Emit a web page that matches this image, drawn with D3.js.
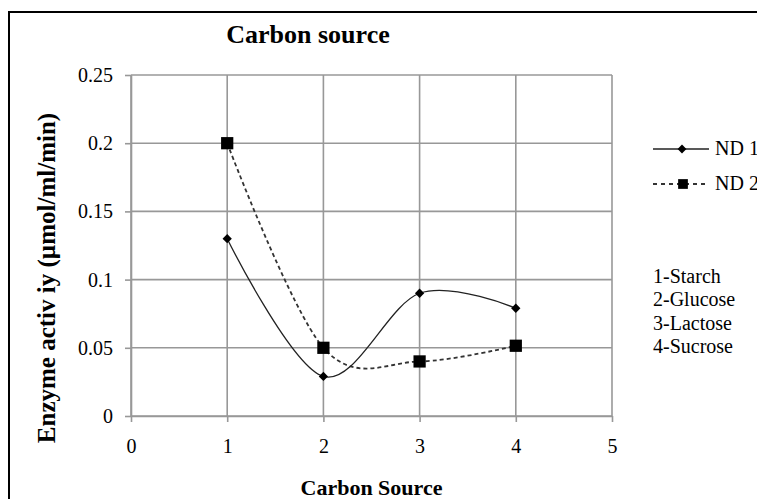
<!DOCTYPE html>
<html>
<head>
<meta charset="utf-8">
<script src="https://cdn.jsdelivr.net/npm/d3@7"></script>
<style>
  body { margin: 0; background: #fff; }
  text { font-family: "Liberation Serif", "Times New Roman", serif; fill: #000; }
</style>
</head>
<body>
<div id="wrapper"></div>
<script>
// chart values
const categories = [1, 2, 3, 4];
const nd1 = [0.13, 0.029, 0.09, 0.079];
const nd2 = [0.2, 0.05, 0.04, 0.0515];
const seriesNames = ["ND 1", "ND 2"];
const xTicks = [0, 1, 2, 3, 4, 5];
const yTicks = [0, 0.05, 0.1, 0.15, 0.2, 0.25];
const yTickLabels = ["0", "0.05", "0.1", "0.15", "0.2", "0.25"];
const sourceList = ["1-Starch", "2-Glucose", "3-Lactose", "4-Sucrose"];

const width = 757;
const height = 499;
let dimensions = {
    width: width,
    height: height,
    margin: { top: 75, right: 145, bottom: 83, left: 131 }
};
dimensions.boundedWidth = dimensions.width - dimensions.margin.left - dimensions.margin.right;
dimensions.boundedHeight = dimensions.height - dimensions.margin.top - dimensions.margin.bottom;

const gridColor = "#989898";

const svg = d3.select("#wrapper")
    .append("svg")
    .attr("width", width)
    .attr("height", height);

// outer frame (runs off the right and bottom edges)
svg.append("rect")
    .attr("x", 9)
    .attr("y", 12)
    .attr("width", width + 20)
    .attr("height", height + 20)
    .attr("fill", "none")
    .attr("stroke", "#000")
    .attr("stroke-width", 2);

const bounds = svg.append("g")
    .attr("transform", `translate(${dimensions.margin.left},${dimensions.margin.top})`);

const xScale = d3.scaleLinear().domain([0, 5]).range([0, dimensions.boundedWidth]);
const yScale = d3.scaleLinear().domain([0, 0.25]).range([dimensions.boundedHeight, 0]);

// grid
bounds.append("g")
    .selectAll("line")
    .data(yTicks)
    .enter()
    .append("line")
    .attr("x1", 0)
    .attr("x2", dimensions.boundedWidth)
    .attr("y1", d => yScale(d))
    .attr("y2", d => yScale(d))
    .attr("stroke", gridColor)
    .attr("stroke-width", 1.6);

bounds.append("g")
    .selectAll("line")
    .data(xTicks)
    .enter()
    .append("line")
    .attr("x1", d => xScale(d))
    .attr("x2", d => xScale(d))
    .attr("y1", 0)
    .attr("y2", dimensions.boundedHeight)
    .attr("stroke", gridColor)
    .attr("stroke-width", 1.6);

// axes
const xAxis = bounds.append("g")
    .attr("transform", `translate(0,${dimensions.boundedHeight})`)
    .call(d3.axisBottom(xScale).tickValues(xTicks).tickFormat(d3.format("d")).tickSize(6).tickPadding(17).tickSizeOuter(0));

const yAxis = bounds.append("g")
    .call(d3.axisLeft(yScale).tickValues(yTicks).tickFormat((d, i) => yTickLabels[i]).tickSize(6).tickPadding(12).tickSizeOuter(0));

[xAxis, yAxis].forEach(ax => {
    ax.select(".domain").attr("stroke", gridColor).attr("stroke-width", 1.6);
    ax.selectAll(".tick line").attr("stroke", gridColor).attr("stroke-width", 1.6);
    ax.selectAll(".tick text")
        .style("font-family", "Liberation Serif")
        .style("font-size", "20px")
        .attr("fill", "#000");
});

// series lines
const line = d3.line()
    .x((d, i) => xScale(categories[i]))
    .y(d => yScale(d))
    .curve(d3.curveCardinal.tension(0));

bounds.append("path")
    .datum(nd2)
    .attr("d", line)
    .attr("fill", "none")
    .attr("stroke", "#333")
    .attr("stroke-width", 1.8)
    .attr("stroke-dasharray", "4,3");

bounds.append("path")
    .datum(nd1)
    .attr("d", line)
    .attr("fill", "none")
    .attr("stroke", "#222")
    .attr("stroke-width", 1.3);

const diamond = d3.symbol().type(d3.symbolDiamond2).size(55);
const square = d3.symbol().type(d3.symbolSquare).size(150);

bounds.append("g")
    .selectAll("path")
    .data(nd1)
    .enter()
    .append("path")
    .attr("d", diamond)
    .attr("transform", (d, i) => `translate(${xScale(categories[i])},${yScale(d)})`)
    .attr("fill", "#000");

bounds.append("g")
    .selectAll("path")
    .data(nd2)
    .enter()
    .append("path")
    .attr("d", square)
    .attr("transform", (d, i) => `translate(${xScale(categories[i])},${yScale(d)})`)
    .attr("fill", "#000");

// titles
svg.append("text")
    .attr("x", 308)
    .attr("y", 43)
    .attr("text-anchor", "middle")
    .style("font-size", "26px")
    .style("font-weight", "bold")
    .text("Carbon source");

svg.append("text")
    .attr("x", dimensions.margin.left + dimensions.boundedWidth / 2)
    .attr("y", 495)
    .attr("text-anchor", "middle")
    .style("font-size", "22px")
    .style("font-weight", "bold")
    .text("Carbon Source");

svg.append("text")
    .attr("transform", "translate(55,278) rotate(-90)")
    .attr("text-anchor", "middle")
    .style("font-size", "25px")
    .style("font-weight", "bold")
    .text("Enzyme activ iy (µmol/ml/min)");

// legend
const legend = svg.append("g");
const legendRows = [149, 184];

legend.append("line")
    .attr("x1", 653).attr("x2", 709)
    .attr("y1", legendRows[0]).attr("y2", legendRows[0])
    .attr("stroke", "#222").attr("stroke-width", 1.3);
legend.append("path")
    .attr("d", d3.symbol().type(d3.symbolDiamond2).size(50))
    .attr("transform", `translate(682,${legendRows[0]})`)
    .attr("fill", "#000");

legend.append("line")
    .attr("x1", 653).attr("x2", 707)
    .attr("y1", legendRows[1]).attr("y2", legendRows[1])
    .attr("stroke", "#333").attr("stroke-width", 1.8)
    .attr("stroke-dasharray", "4,4");
legend.append("path")
    .attr("d", d3.symbol().type(d3.symbolSquare).size(95))
    .attr("transform", `translate(683,${legendRows[1]})`)
    .attr("fill", "#000");

legend.selectAll("text.series")
    .data(seriesNames)
    .enter()
    .append("text")
    .attr("class", "series")
    .attr("x", 715)
    .attr("y", (d, i) => legendRows[i] + 6)
    .style("font-size", "20px")
    .text(d => d);

legend.selectAll("text.source")
    .data(sourceList)
    .enter()
    .append("text")
    .attr("class", "source")
    .attr("x", 653)
    .attr("y", (d, i) => 283 + i * 23.3)
    .style("font-size", "20px")
    .text(d => d);
</script>
</body>
</html>
